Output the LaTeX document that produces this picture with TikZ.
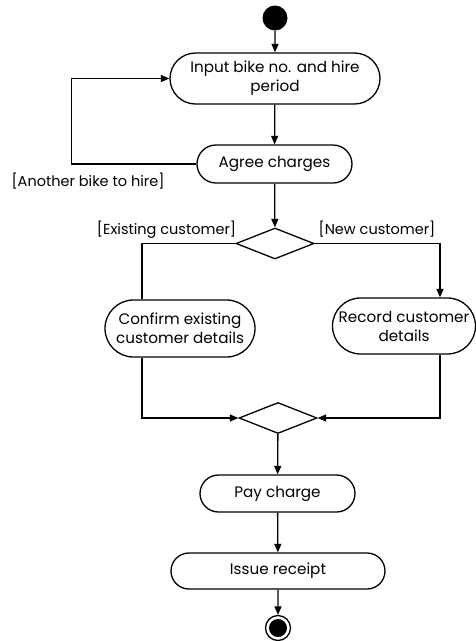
\documentclass[tikz,border=0pt]{standalone}
\usepackage{fontspec}
\setmainfont{Poppins}
\usetikzlibrary{arrows.meta, positioning, shapes.misc, shapes.geometric}
\tikzset{
  activity/.style={rounded rectangle, draw=black, line width=1.3pt,
    inner sep=0pt, font=\fontsize{15.2}{19}\selectfont, align=center},
  decision/.style={diamond, draw=black, line width=1.3pt, inner sep=0pt,
    minimum width=78pt, minimum height=31pt},
  initial/.style={circle, fill=black, inner sep=0pt, minimum size=25pt},
  final/.style={circle, draw=black, line width=1.3pt, inner sep=0pt,
    minimum size=25pt, path picture={\fill (path picture bounding box.center) circle (9pt);}},
  flow/.style={-{Triangle[length=8.5pt, width=7pt]}, line width=1.3pt},
  plain/.style={line width=1.3pt},
  guard/.style={font=\fontsize{14.5}{16}\selectfont, inner sep=0pt}
}
\begin{document}
\begin{tikzpicture}[x=1pt, y=-1pt]
\useasboundingbox (0,0) rectangle (476,641);

%% Start / end
\node[initial] (start) at (275, 18) {};
\node[final]   (stop)  at (278, 628) {};

%% Activities
\node[activity, minimum width=210pt, minimum height=51pt] (input)   at (275, 78.5)  {Input bike no. and hire\\period};
\node[activity, minimum width=155pt, minimum height=38pt] (agree)   at (274.5, 164) {Agree charges};
\node[activity, minimum width=150pt, minimum height=57pt] (confirm) at (180, 328.5) {Confirm existing\\customer details};
\node[activity, minimum width=143pt, minimum height=56pt] (record)  at (404, 326)   {Record customer\\details};
\node[activity, minimum width=155pt, minimum height=37pt] (pay)     at (277.5, 493.5) {Pay charge};
\node[activity, minimum width=214pt, minimum height=36pt] (issue)   at (278, 571)   {Issue receipt};

%% Decision / merge
\node[decision] (branch) at (275, 243.5) {};
\node[decision] (merge)  at (278, 418)   {};

%% Guards
\node[guard] (gmore) at (88, 181)    {[Another bike to hire]};
\node[guard] (gold)  at (166.5, 230) {[Existing customer]};
\node[guard] (gnew)  at (377, 229)   {[New customer]};

%% ── main line
\draw[flow] (start) -- (input);
\draw[flow] (input) -- (agree);
\draw[flow] (agree.west) -- ++(-125,0) |- (input.west);
\draw[flow] (agree) -- (branch);

%% ── branches
\draw[plain] (branch.west) -| ([xshift=-38pt]confirm.north);
\draw[flow]  (branch.east) -| ([xshift=36pt]record.north);
\draw[flow]  ([xshift=-38pt]confirm.south) |- (merge.west);
\draw[flow]  ([xshift=36pt]record.south) |- (merge.east);

%% ── to the end
\draw[flow] (merge) -- (pay);
\draw[flow] (pay) -- (issue);
\draw[flow] (issue) -- (stop);

\end{tikzpicture}
\end{document}
